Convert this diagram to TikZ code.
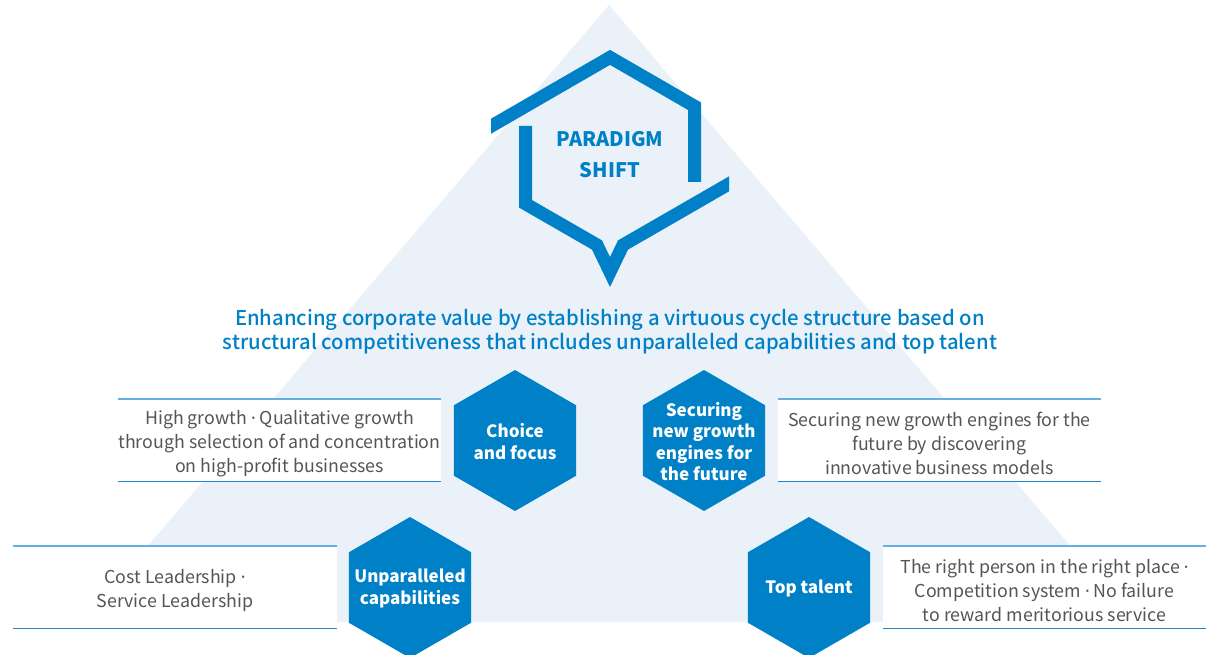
\documentclass[tikz,border=0pt]{standalone}
\usepackage{fontspec}
\setmainfont{Noto Sans CJK KR}
\newfontfamily\medfont{Noto Sans CJK KR Medium}
\newfontfamily\dotfont{Noto Sans}
\newcommand{\mdot}{{\dotfont\textperiodcentered}}
\usetikzlibrary{shapes.geometric,positioning,calc}
\definecolor{hexBlue}{HTML}{0080C6}
\definecolor{paleBlue}{HTML}{EAF1F9}
\definecolor{txtGray}{HTML}{555555}
\definecolor{topLine}{HTML}{62B1E2}
\definecolor{botLine}{HTML}{2585C7}
\tikzset{
	hexa/.style={regular polygon, regular polygon sides=6, shape border rotate=30,
		fill=hexBlue, minimum size=141pt, inner sep=0pt, outer sep=0pt},
	hexlab/.style={text=white, font=\fontsize{17}{21.5}\selectfont\bfseries, align=center, yshift=-1.2pt},
	descbox/.style={fill=white, minimum width=323pt, minimum height=82pt, inner sep=0pt},
	desctext/.style={text=txtGray, font=\fontsize{17.8}{24}\selectfont, align=center, yshift=-3.5pt},
	rule top/.style={draw=topLine, line width=1.5pt},
	rule bot/.style={draw=botLine, line width=1.1pt},
	shiftline/.style={draw=hexBlue, line width=13pt, line join=miter}
}
\begin{document}
\begin{tikzpicture}[x=1pt, y=-1pt]
	\useasboundingbox (0,0) rectangle (1213,655);
	% background pyramid
	\fill[paleBlue] (609,5) -- (1135,622) -- (83,622) -- cycle;

	% paradigm shift frame
	\coordinate (ps) at (610,155);
	\begin{scope}
		\clip (491,0) rectangle (729,300);
		\path[shiftline] (485,129.7) -- (610,57.4) -- (694.5,106.2) -- (694.5,182);
		\path[shiftline] (525.5,126) -- (525.5,203.8) -- (597,245) -- (610,272)
			-- (623,245) -- (694.5,203.8) -- (735,180.4);
	\end{scope}
	\node[text=hexBlue, font=\fontsize{20}{31}\selectfont\bfseries, align=center] (shift) at (ps)
		{PARADIGM\\SHIFT};

	\node[text=hexBlue, font=\medfont\fontsize{20.3}{24}\selectfont, align=center] (goal) at (610,332)
		{Enhancing corporate value by establishing a virtuous cycle structure based on\\
		 structural competitiveness that includes unparalleled capabilities and top talent};

	% description boxes
	\node[descbox, label={[desctext]center:{High growth \mdot{} Qualitative growth\\through selection of and concentration\\on high-profit businesses}}] (d1) at (279.5,440) {};
	\node[descbox, label={[desctext]center:{Securing new growth engines for the\\future by discovering\\innovative business models}}] (d2) at (939.5,440) {};
	\node[descbox, label={[desctext]center:{Cost Leadership \mdot\\Service Leadership}}] (d3) at (175,587) {};
	\node[descbox, label={[desctext]center:{The right person in the right place \mdot\\Competition system \mdot{} No failure\\to reward meritorious service}}] (d4) at (1044.5,587) {};
	\foreach \b in {d1,d2,d3,d4}{
		\draw[rule top] (\b.north west) -- (\b.north east);
		\draw[rule bot] (\b.south west) -- (\b.south east);
	}

	% hexagons
	\node[hexa, label={[hexlab]center:{Choice\\and focus}}] (choice) at (515,440.5) {};
	\node[hexa, label={[hexlab]center:{Securing\\new growth\\engines for\\the future}}] (engines) at (704,440.5) {};
	\node[hexa, label={[hexlab]center:{Unparalleled\\capabilities}}] (capab) at (410,587.5) {};
	\node[hexa, label={[hexlab]center:{Top talent}}] (talent) at (809,587.5) {};
\end{tikzpicture}
\end{document}
